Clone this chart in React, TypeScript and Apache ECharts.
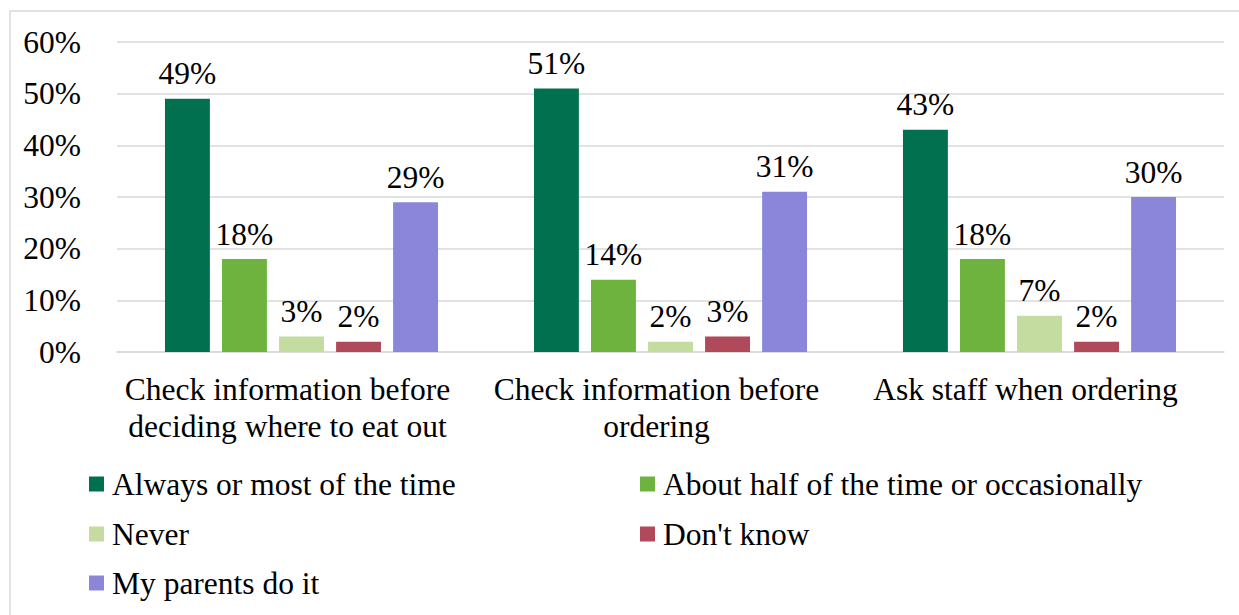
import React, { useEffect, useRef } from "react";
import * as echarts from "echarts";

const categories = [
  "Check information before\ndeciding where to eat out",
  "Check information before\nordering",
  "Ask staff when ordering",
];
const seriesNames = [
  "Always or most of the time",
  "About half of the time or occasionally",
  "Never",
  "Don't know",
  "My parents do it",
];
const alwaysValues = [49, 51, 43];
const halfValues = [18, 14, 18];
const neverValues = [3, 2, 7];
const dontKnowValues = [2, 3, 2];
const parentsValues = [29, 31, 30];
const yTicks = { min: 0, max: 60, interval: 10 };

const colors = ["#00704F", "#6FB33F", "#C5DCA0", "#B04A5A", "#8C86DA"];
const FONT = "Times New Roman, serif";
const FS = 31.5;

export default function App() {
  const ref = useRef<HTMLDivElement>(null);
  useEffect(() => {
    document.body.style.margin = "0";
    const chart = echarts.init(ref.current!, null, { renderer: "svg" });
    const values = [alwaysValues, halfValues, neverValues, dontKnowValues, parentsValues];
    const legendPos = [
      { left: 84, top: 463 },
      { left: 635, top: 463 },
      { left: 84, top: 513 },
      { left: 635, top: 513 },
      { left: 84, top: 562 },
    ];
    chart.setOption({
      animation: false,
      textStyle: { fontFamily: FONT },
      graphic: [
        {
          type: "rect",
          shape: { x: 10, y: 11, width: 1240, height: 620 },
          style: { fill: "none", stroke: "#d9d9d9", lineWidth: 1.5 },
          silent: true,
        },
      ],
      legend: seriesNames.map((name, i) => ({
        ...legendPos[i],
        orient: "horizontal",
        icon: "rect",
        itemWidth: 15,
        itemHeight: 15,
        data: [name],
        selectedMode: false,
        textStyle: { fontFamily: FONT, fontSize: FS, color: "#000", padding: [0, 0, 0, 3] },
      })),
      grid: { left: 117, right: 15, top: 42, bottom: 263, containLabel: false },
      xAxis: {
        type: "category",
        data: categories,
        axisTick: { show: false },
        axisLine: { lineStyle: { color: "#d9d9d9", width: 1.5 } },
        axisLabel: {
          fontFamily: FONT,
          fontSize: FS,
          color: "#000",
          lineHeight: 37,
          margin: 19,
          interval: 0,
          padding: [0, 28, 0, 0],
        },
      },
      yAxis: {
        type: "value",
        min: yTicks.min,
        max: yTicks.max,
        interval: yTicks.interval,
        axisLine: { show: false },
        axisTick: { show: false },
        splitLine: { lineStyle: { color: "#d9d9d9", width: 1.5 } },
        axisLabel: {
          formatter: "{value}%",
          fontFamily: FONT,
          fontSize: FS,
          color: "#000",
          margin: 36,
        },
      },
      series: seriesNames.map((name, i) => ({
        name,
        type: "bar",
        data: values[i],
        barGap: "27%",
        barCategoryGap: "26%",
        itemStyle: { color: colors[i] },
        label: {
          show: true,
          position: "top",
          distance: 9,
          formatter: "{c}%",
          fontFamily: FONT,
          fontSize: FS,
          color: "#000",
        },
      })),
    });
    return () => chart.dispose();
  }, []);
  return <div ref={ref} style={{ width: 1239, height: 615 }} />;
}
